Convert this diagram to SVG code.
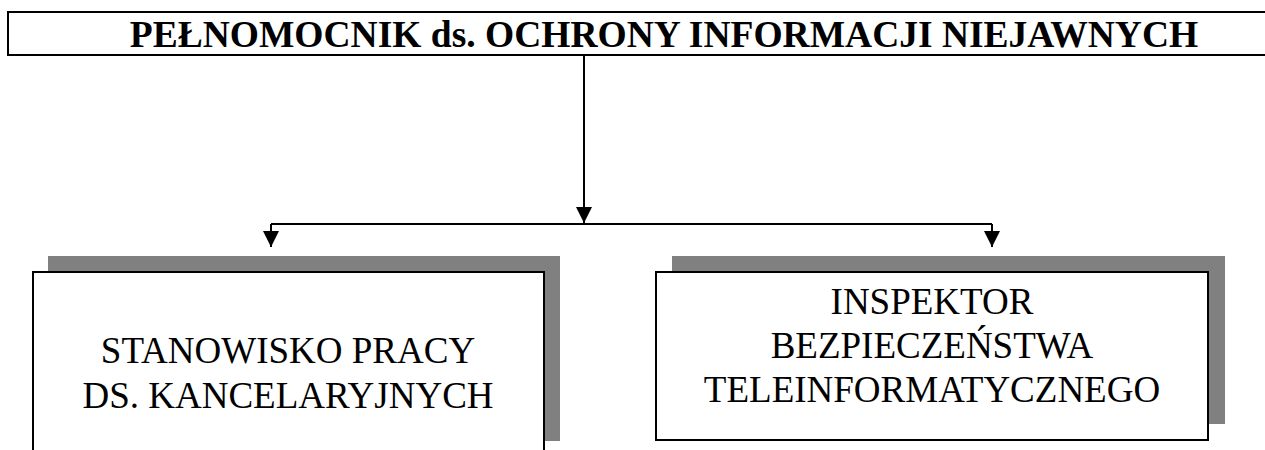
<svg xmlns="http://www.w3.org/2000/svg" width="1265" height="450" viewBox="0 0 1265 450">
  <style>
    .frame { fill: #ffffff; stroke: #000000; stroke-width: 2; }
    .shadow { fill: #808080; stroke: none; }
    .wire { fill: none; stroke: #000000; stroke-width: 2; }
    .title { font-family: "Liberation Serif", "Times New Roman", serif; font-weight: bold; font-size: 37.5px; fill: #000000; text-anchor: middle; }
    .label { font-family: "Liberation Serif", "Times New Roman", serif; font-size: 37px; fill: #000000; text-anchor: middle; }
  </style>
  <defs>
    <marker id="arrow" markerUnits="userSpaceOnUse" markerWidth="16" markerHeight="16" viewBox="0 0 16 16" refX="16" refY="8" orient="auto">
      <path d="M0,0 L16,8 L0,16 Z" fill="#000000"/>
    </marker>
  </defs>
  <rect width="1265" height="450" fill="#ffffff"/>

  <!-- head of the unit -->
  <g id="node-pelnomocnik">
    <rect class="frame" x="8" y="12" width="1280" height="43"/>
    <text class="title" x="664" y="47">PEŁNOMOCNIK ds. OCHRONY INFORMACJI NIEJAWNYCH</text>
  </g>

  <!-- connectors -->
  <g id="connectors">
    <line class="wire" x1="584" y1="55" x2="584" y2="223" marker-end="url(#arrow)"/>
    <polyline class="wire" points="271,224 992,224"/>
    <line class="wire" x1="271" y1="224" x2="271" y2="247" marker-end="url(#arrow)"/>
    <line class="wire" x1="992" y1="224" x2="992" y2="247" marker-end="url(#arrow)"/>
  </g>

  <!-- subordinate post: office work -->
  <g id="node-kancelaria">
    <rect class="shadow" x="48" y="256" width="512" height="185"/>
    <rect class="frame" x="33" y="272" width="511" height="200"/>
    <text class="label" x="288" y="363">STANOWISKO PRACY</text>
    <text class="label" x="288" y="408">DS. KANCELARYJNYCH</text>
  </g>

  <!-- subordinate post: ICT security inspector -->
  <g id="node-inspektor">
    <rect class="shadow" x="672" y="256" width="553" height="168"/>
    <rect class="frame" x="656" y="272" width="552" height="168"/>
    <text class="label" x="932" y="314">INSPEKTOR</text>
    <text class="label" x="932" y="358">BEZPIECZEŃSTWA</text>
    <text class="label" x="932" y="402">TELEINFORMATYCZNEGO</text>
  </g>
</svg>
